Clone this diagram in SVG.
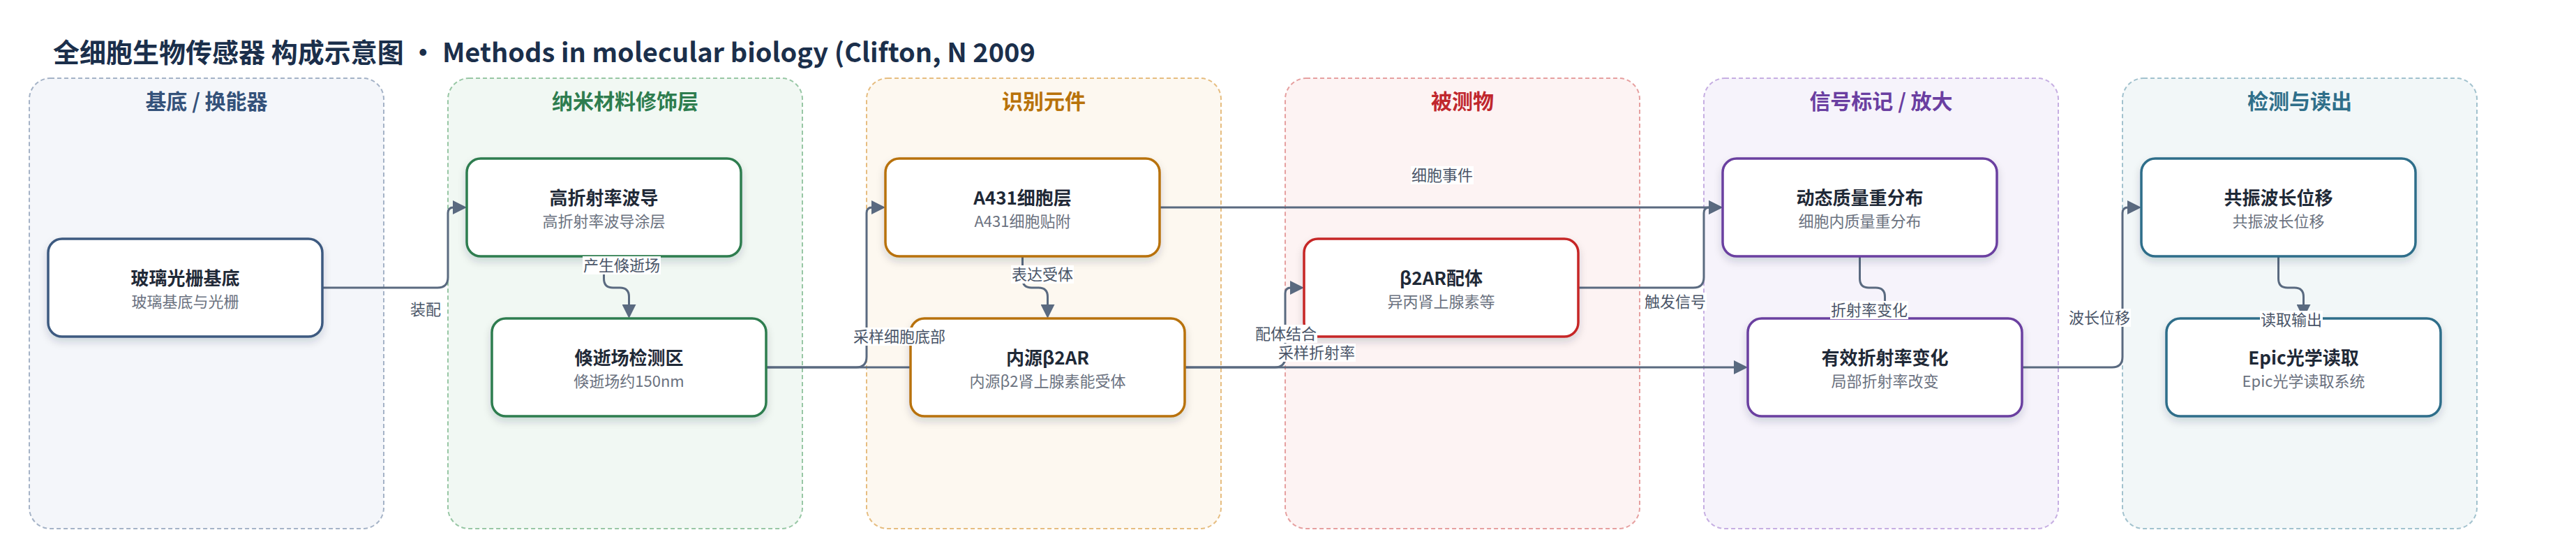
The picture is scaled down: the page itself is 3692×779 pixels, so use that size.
<svg xmlns="http://www.w3.org/2000/svg" width="3692" height="779" viewBox="0 0 3692 779">
<defs>
<style>
text{font-family:"Noto Sans CJK SC","Noto Sans",sans-serif}
.title{font-size:38px;font-weight:700;fill:#1b2f4b}
.lane{stroke-width:2;stroke-dasharray:6 4}
.lh{font-size:30px;font-weight:700;text-anchor:middle}
.node{fill:#fff;stroke-width:3.5;filter:url(#sh)}
.nt{font-size:26px;font-weight:700;fill:#1f2937;text-anchor:middle}
.ns{font-size:22px;fill:#6b7280;text-anchor:middle}
.edge{fill:none;stroke:#5a6a80;stroke-width:3;marker-end:url(#arr)}
.lbg{fill:#fff}
.lt{font-size:22px;fill:#4a5568;text-anchor:middle}
</style>
<filter id="sh" x="-10%" y="-20%" width="120%" height="150%">
<feDropShadow dx="0" dy="6" stdDeviation="6" flood-color="#1f2937" flood-opacity="0.16"/>
</filter>
<marker id="arr" markerUnits="userSpaceOnUse" markerWidth="20" markerHeight="20" viewBox="0 0 20 20" refX="10" refY="10" orient="auto">
<path d="M0,0 L20,10 L0,20 z" fill="#5a6a80"/>
</marker>
</defs>
<rect width="3692" height="779" fill="#fff"/>
<text class="title" x="76" y="89">全细胞生物传感器 构成示意图 • Methods in molecular biology (Clifton, N 2009</text>

<g id="lanes">
<g id="lane-substrate">
<rect class="lane" x="42" y="112" width="508" height="645" rx="30" fill="#f4f6fa" stroke="#a5b3c7"/>
<text class="lh" x="296" y="156" fill="#34527a">基底 / 换能器</text>
</g>
<g id="lane-nano">
<rect class="lane" x="642" y="112" width="508" height="645" rx="30" fill="#f1f8f3" stroke="#98c7a5"/>
<text class="lh" x="896" y="156" fill="#2e7d4f">纳米材料修饰层</text>
</g>
<g id="lane-recog">
<rect class="lane" x="1242" y="112" width="508" height="645" rx="30" fill="#fdf8f0" stroke="#e6bd80"/>
<text class="lh" x="1496" y="156" fill="#b8720a">识别元件</text>
</g>
<g id="lane-analyte">
<rect class="lane" x="1842" y="112" width="508" height="645" rx="30" fill="#fdf3f3" stroke="#e6a0a0"/>
<text class="lh" x="2096" y="156" fill="#c0272d">被测物</text>
</g>
<g id="lane-signal">
<rect class="lane" x="2442" y="112" width="508" height="645" rx="30" fill="#f6f3fb" stroke="#c6aee2"/>
<text class="lh" x="2696" y="156" fill="#6a3ea1">信号标记 / 放大</text>
</g>
<g id="lane-readout">
<rect class="lane" x="3042" y="112" width="508" height="645" rx="30" fill="#f2f7f8" stroke="#a2c2ce"/>
<text class="lh" x="3296" y="156" fill="#2f6f8a">检测与读出</text>
</g>
</g>

<g id="connectors">
<path class="edge" d="M462,412 H627 Q642,412 642,397 V305 Q642,297 650,297 H659"/>
<path class="edge" d="M865.5,367 V399 Q865.5,412 878.5,412 H888.5 Q901.5,412 901.5,425 V446"/>
<path class="edge" d="M1098,526 H1227 Q1242,526 1242,511 V305 Q1242,297 1250,297 H1259"/>
<path class="edge" d="M1098,526 H2495"/>
<path class="edge" d="M1465.5,367 V399 Q1465.5,412 1478.5,412 H1488.5 Q1501.5,412 1501.5,425 V446"/>
<path class="edge" d="M1662,297 H2459"/>
<path class="edge" d="M1698,526 H1827 Q1842,526 1842,511 V420 Q1842,412 1850,412 H1859"/>
<path class="edge" d="M2262,412 H2427 Q2442,412 2442,397 V305 Q2442,297 2450,297 H2459"/>
<path class="edge" d="M2665.5,367 V399 Q2665.5,412 2678.5,412 H2688.5 Q2701.5,412 2701.5,425 V446"/>
<path class="edge" d="M2898,526 H3027 Q3042,526 3042,511 V305 Q3042,297 3050,297 H3059"/>
<path class="edge" d="M3265.5,367 V399 Q3265.5,412 3278.5,412 H3288.5 Q3301.5,412 3301.5,425 V446"/>
</g>

<g id="n-glass">
<rect class="node" x="69" y="342" width="393" height="140" rx="20" stroke="#3d5a80"/>
<text class="nt" x="265.5" y="408">玻璃光栅基底</text>
<text class="ns" x="265.5" y="440">玻璃基底与光栅</text>
</g>
<g id="n-waveguide">
<rect class="node" x="669" y="227" width="393" height="140" rx="20" stroke="#2e7d4f"/>
<text class="nt" x="865.5" y="293">高折射率波导</text>
<text class="ns" x="865.5" y="325">高折射率波导涂层</text>
</g>
<g id="n-evanescent">
<rect class="node" x="705" y="456" width="393" height="140" rx="20" stroke="#2e7d4f"/>
<text class="nt" x="901.5" y="522">倏逝场检测区</text>
<text class="ns" x="901.5" y="554">倏逝场约150nm</text>
</g>
<g id="n-a431">
<rect class="node" x="1269" y="227" width="393" height="140" rx="20" stroke="#b8720a"/>
<text class="nt" x="1465.5" y="293">A431细胞层</text>
<text class="ns" x="1465.5" y="325">A431细胞贴附</text>
</g>
<g id="n-b2ar">
<rect class="node" x="1305" y="456" width="393" height="140" rx="20" stroke="#b8720a"/>
<text class="nt" x="1501.5" y="522">内源β2AR</text>
<text class="ns" x="1501.5" y="554">内源β2肾上腺素能受体</text>
</g>
<g id="n-ligand">
<rect class="node" x="1869" y="342" width="393" height="140" rx="20" stroke="#c62828"/>
<text class="nt" x="2065.5" y="408">β2AR配体</text>
<text class="ns" x="2065.5" y="440">异丙肾上腺素等</text>
</g>
<g id="n-dmr">
<rect class="node" x="2469" y="227" width="393" height="140" rx="20" stroke="#6b3fa0"/>
<text class="nt" x="2665.5" y="293">动态质量重分布</text>
<text class="ns" x="2665.5" y="325">细胞内质量重分布</text>
</g>
<g id="n-refindex">
<rect class="node" x="2505" y="456" width="393" height="140" rx="20" stroke="#6b3fa0"/>
<text class="nt" x="2701.5" y="522">有效折射率变化</text>
<text class="ns" x="2701.5" y="554">局部折射率改变</text>
</g>
<g id="n-resonance">
<rect class="node" x="3069" y="227" width="393" height="140" rx="20" stroke="#2f6e8a"/>
<text class="nt" x="3265.5" y="293">共振波长位移</text>
<text class="ns" x="3265.5" y="325">共振波长位移</text>
</g>
<g id="n-epic">
<rect class="node" x="3105" y="456" width="393" height="140" rx="20" stroke="#2f6e8a"/>
<text class="nt" x="3301.5" y="522">Epic光学读取</text>
<text class="ns" x="3301.5" y="554">Epic光学读取系统</text>
</g>

<g id="connector-labels">
<rect class="lbg" x="587" y="430" width="46" height="26"/><text class="lt" x="610" y="451">装配</text>
<rect class="lbg" x="835" y="367" width="112" height="26"/><text class="lt" x="891" y="388">产生倏逝场</text>
<rect class="lbg" x="1222" y="469" width="134" height="26"/><text class="lt" x="1289" y="490">采样细胞底部</text>
<rect class="lbg" x="1831" y="492" width="112" height="26"/><text class="lt" x="1887" y="513">采样折射率</text>
<rect class="lbg" x="1449" y="380" width="90" height="26"/><text class="lt" x="1494" y="401">表达受体</text>
<rect class="lbg" x="2022" y="238" width="90" height="26"/><text class="lt" x="2067" y="259">细胞事件</text>
<rect class="lbg" x="1798" y="465" width="90" height="26"/><text class="lt" x="1843" y="486">配体结合</text>
<rect class="lbg" x="2356" y="419" width="90" height="26"/><text class="lt" x="2401" y="440">触发信号</text>
<rect class="lbg" x="2623" y="431" width="112" height="26"/><text class="lt" x="2679" y="452">折射率变化</text>
<rect class="lbg" x="2964" y="442" width="90" height="26"/><text class="lt" x="3009" y="463">波长位移</text>
<rect class="lbg" x="3239" y="445" width="90" height="26"/><text class="lt" x="3284" y="466">读取输出</text>
</g>
</svg>
